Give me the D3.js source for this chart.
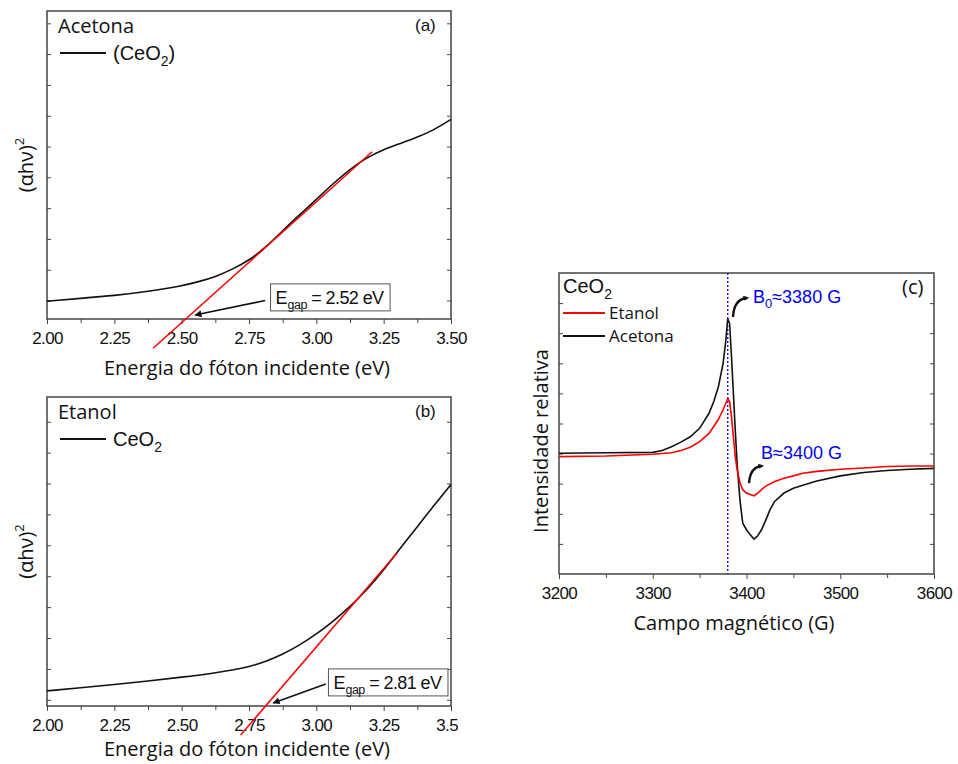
<!DOCTYPE html>
<html>
<head>
<meta charset="utf-8">
<script src="https://cdn.jsdelivr.net/npm/d3@7"></script>
<style>
  body { margin: 0; background: #fff; }
  svg { display: block; }
  .tick text { font-family: "Liberation Sans", Arial, sans-serif; font-size: 17px; letter-spacing: -0.6px; fill: #111; }
  .tick line { stroke: #444; }
  .ttl { font-family: "Open Sans", sans-serif; font-size: 20px; fill: #111; }
  .arial { font-family: "Liberation Sans", Arial, sans-serif; fill: #111; }
</style>
</head>
<body>
<svg id="fig" width="958" height="764"></svg>
<script>
// ---- data ----
// (a) acetona: (alpha h nu)^2, arbitrary units
const energyA = [2.00, 2.125, 2.25, 2.375, 2.50, 2.5625, 2.625, 2.6875, 2.75, 2.8125, 2.875,
  2.9375, 3.00, 3.0625, 3.125, 3.1875, 3.25, 3.3125, 3.375, 3.4375, 3.50];
const absA = [-0.02, 0.07, 0.16, 0.29, 0.47, 0.61, 0.77, 1.01, 1.30, 1.73, 2.27,
  2.78, 3.28, 3.80, 4.27, 4.64, 4.91, 5.10, 5.30, 5.54, 5.88];
const fitA = [[2.394, -1.55], [3.207, 4.83]];

// (b) etanol
const energyB = [2.00, 2.125, 2.25, 2.375, 2.50, 2.625, 2.6875, 2.75, 2.8125, 2.875,
  2.9375, 3.00, 3.0625, 3.125, 3.1875, 3.25, 3.3125, 3.375, 3.4375, 3.50];
const absB = [0.29, 0.39, 0.49, 0.61, 0.73, 0.87, 0.96, 1.07, 1.24, 1.47,
  1.77, 2.12, 2.54, 3.01, 3.55, 4.20, 4.92, 5.60, 6.30, 6.97];
const fitB = [[2.719, -1.14], [3.299, 4.74]];

const energyTicks = [2.00, 2.25, 2.50, 2.75, 3.00, 3.25, 3.50];

// (c) EPR spectra
const fieldAcetona = [3200, 3250, 3300, 3310, 3320, 3330, 3340, 3350, 3360, 3365, 3370, 3375, 3378,
  3380, 3382, 3384, 3386, 3388, 3390, 3393, 3396, 3400, 3404, 3408, 3412, 3416, 3420, 3425, 3430,
  3440, 3450, 3460, 3475, 3500, 3525, 3550, 3575, 3600];
const intAcetona = [40.1, 40.3, 40.4, 41.0, 42.3, 43.8, 45.6, 48.4, 53.4, 57.2, 62.2, 69.9, 77.7,
  84.9, 83.2, 72.2, 60.0, 47.8, 36.8, 24.6, 16.9, 14.7, 13.0, 11.6, 12.7, 14.7, 17.5, 21.3, 24.1,
  26.9, 28.5, 29.5, 30.9, 32.6, 33.7, 34.4, 34.8, 35.1];
const fieldEtanol = [3200, 3250, 3300, 3320, 3330, 3340, 3350, 3360, 3365, 3370, 3375, 3380, 3382,
  3384, 3386, 3388, 3390, 3393, 3396, 3400, 3404, 3408, 3412, 3416, 3420, 3430, 3440, 3450, 3460,
  3475, 3500, 3525, 3550, 3575, 3600];
const intEtanol = [39.0, 39.2, 39.8, 40.3, 41.0, 42.1, 44.0, 46.7, 49.0, 51.4, 54.5, 58.3, 57.2,
  52.3, 45.6, 39.0, 34.6, 30.4, 28.0, 26.9, 26.4, 26.0, 26.9, 28.0, 29.1, 30.7, 31.8, 32.6, 33.5,
  34.1, 34.8, 35.2, 35.7, 35.9, 35.9];
const fieldTicks = [3200, 3300, 3400, 3500, 3600];
const b0 = 3380;

const svg = d3.select('#fig');
svg.append('rect').attr('width', 958).attr('height', 764).attr('fill', '#fff');

const defs = svg.append('defs');
defs.append('marker').attr('id', 'head').attr('viewBox', '0 0 10 10')
  .attr('refX', 9).attr('refY', 5).attr('markerWidth', 9).attr('markerHeight', 7)
  .attr('markerUnits', 'userSpaceOnUse').attr('orient', 'auto')
  .append('path').attr('d', 'M0,0L10,5L0,10z').attr('fill', '#111');
defs.append('marker').attr('id', 'hook').attr('viewBox', '0 0 10 10')
  .attr('refX', 6).attr('refY', 5).attr('markerWidth', 6).attr('markerHeight', 6)
  .attr('markerUnits', 'userSpaceOnUse').attr('orient', 'auto')
  .append('path').attr('d', 'M0,1L10,5L0,9z').attr('fill', '#111');
defs.append('clipPath').attr('id', 'clipB').append('rect')
  .attr('x', 0).attr('y', 380).attr('width', 458).attr('height', 384);

// frame with ticks all round (labels only at the bottom)
function axes(g, x, y, major, minor, yTicks, fmt) {
  const [x0, x1] = x.range(), [y0, y1] = y.range();
  const strip = s => s.select('.domain').remove();
  g.append('g').attr('transform', `translate(0,${y0})`)
    .call(d3.axisBottom(x).tickValues(major).tickSize(5).tickPadding(8).tickFormat(fmt)).call(strip);
  g.append('g').attr('transform', `translate(0,${y0})`)
    .call(d3.axisBottom(x).tickValues(minor).tickSize(4).tickFormat('')).call(strip);
  g.append('g').attr('transform', `translate(${x0},0)`)
    .call(d3.axisLeft(y).tickValues(yTicks).tickSize(-4).tickFormat('')).call(strip);
  g.append('g').attr('transform', `translate(${x1},0)`)
    .call(d3.axisRight(y).tickValues(yTicks).tickSize(-4).tickFormat('')).call(strip);
  g.append('rect').attr('x', x0).attr('y', y1).attr('width', x1 - x0).attr('height', y0 - y1)
    .attr('fill', 'none').attr('stroke', '#444').attr('stroke-width', 1.5);
}

function gapBox(g, x, y, bx, by, label, ax0, ay0, ax1, ay1) {
  const t = g.append('text').attr('class', 'arial').attr('x', x(bx) + 5).attr('y', y(by) + 20)
    .style('font-size', '18px');
  t.append('tspan').text('E');
  t.append('tspan').text('gap').style('font-size', '12.5px').attr('dy', 5).attr('letter-spacing', -0.5);
  t.append('tspan').text(' = ' + label + ' eV').attr('dy', -5).attr('letter-spacing', -0.6);
  const bb = t.node().getBBox();
  g.insert('rect', () => t.node()).attr('x', x(bx)).attr('y', y(by))
    .attr('width', bb.width + 11).attr('height', 27)
    .attr('fill', '#fff').attr('stroke', '#555').attr('stroke-width', 1);
  g.append('line').attr('x1', x(ax0)).attr('y1', y(ay0)).attr('x2', x(ax1)).attr('y2', y(ay1))
    .attr('stroke', '#111').attr('stroke-width', 1.6).attr('marker-end', 'url(#head)');
}

function energyPanel(g, cfg) {
  const x = d3.scaleLinear([2, 3.5], [47, 451]);
  const y = d3.scaleLinear(cfg.yDomain, cfg.yRange);
  const minor = d3.range(0, 12).map(i => 2.125 + i * 0.125).filter(v => !energyTicks.some(t => Math.abs(t - v) < 1e-6));
  axes(g, x, y, energyTicks, minor, d3.range(0, 10), d3.format('.2f'));

  const line = d3.line().x(d => x(d[0])).y(d => y(d[1])).curve(d3.curveBasis);
  g.append('path').datum(cfg.energy.map((e, i) => [e, cfg.abs[i]]))
    .attr('d', line).attr('fill', 'none').attr('stroke', '#111').attr('stroke-width', 1.6);
  g.append('path').datum(cfg.fit).attr('d', d3.line().x(d => x(d[0])).y(d => y(d[1])))
    .attr('fill', 'none').attr('stroke', '#f00').attr('stroke-width', 1.5);

  const top = cfg.yRange[1];
  g.append('text').attr('class', 'ttl').attr('x', 58).attr('y', top + 22).text(cfg.solvent);
  g.append('line').attr('x1', 60).attr('x2', 106).attr('y1', top + 42).attr('y2', top + 42)
    .attr('stroke', '#111').attr('stroke-width', 2);
  const leg = g.append('text').attr('class', 'arial').attr('x', 113).attr('y', top + 49).style('font-size', '20px');
  leg.append('tspan').text(cfg.paren ? '(CeO' : 'CeO');
  leg.append('tspan').text('2').style('font-size', '14px').attr('dy', 6);
  if (cfg.paren) leg.append('tspan').text(')').attr('dy', -6);
  g.append('text').attr('class', 'arial').attr('x', 415).attr('y', top + 20)
    .style('font-size', '17px').text(cfg.tag);

  const yl = g.append('text').attr('class', 'ttl')
    .attr('transform', `translate(33,${(cfg.yRange[0] + top) / 2}) rotate(-90)`).attr('text-anchor', 'middle');
  yl.append('tspan').text('(\u03b1h\u03bd)');
  yl.append('tspan').text('2').style('font-size', '13px').attr('dy', -9);
  g.append('text').attr('class', 'ttl').attr('x', 247).attr('y', cfg.yRange[0] + cfg.titleGap)
    .attr('text-anchor', 'middle').text('Energia do fóton incidente (eV)');

  gapBox(g, x, y, ...cfg.box);
}

energyPanel(svg.append('g'), {
  energy: energyA, abs: absA, fit: fitA, yDomain: [-0.6, 9.4], yRange: [319, 11],
  solvent: 'Acetona', paren: true, tag: '(a)', titleGap: 56,
  box: [2.83, 0.54, '2.52', 2.81, 0.0, 2.55, -0.47]
});
energyPanel(svg.append('g').attr('clip-path', 'url(#clipB)'), {
  energy: energyB, abs: absB, fit: fitB, yDomain: [-0.2, 9.8], yRange: [706, 397],
  solvent: 'Etanol', paren: false, tag: '(b)', titleGap: 50,
  box: [3.045, 1.0, '2.81', 3.035, 0.51, 2.84, -0.10]
});

// ---- panel (c) ----
const gc = svg.append('g');
const xc = d3.scaleLinear([3200, 3600], [559, 934]);
const yc = d3.scaleLinear([0, 100], [574, 273]);
axes(gc, xc, yc, fieldTicks, d3.range(3250, 3600, 100), d3.range(10, 100, 10), d3.format('d'));

const lineC = d3.line().x(d => xc(d[0])).y(d => yc(d[1]));
gc.append('line').attr('x1', xc(b0)).attr('x2', xc(b0)).attr('y1', yc(100)).attr('y2', yc(0))
  .attr('stroke', '#0000ee').attr('stroke-width', 1.3).attr('stroke-dasharray', '2,2');
gc.append('path').datum(fieldAcetona.map((f, i) => [f, intAcetona[i]]))
  .attr('d', lineC).attr('fill', 'none').attr('stroke', '#111').attr('stroke-width', 1.6);
gc.append('path').datum(fieldEtanol.map((f, i) => [f, intEtanol[i]]))
  .attr('d', lineC).attr('fill', 'none').attr('stroke', '#f00').attr('stroke-width', 1.6);

const ce = gc.append('text').attr('class', 'arial').attr('x', 563).attr('y', 293).style('font-size', '20px');
ce.append('tspan').text('CeO');
ce.append('tspan').text('2').style('font-size', '14px').attr('dy', 6);
[['Etanol', '#f00', 313], ['Acetona', '#111', 336]].forEach(([name, col, ly]) => {
  gc.append('line').attr('x1', 563).attr('x2', 605).attr('y1', ly).attr('y2', ly)
    .attr('stroke', col).attr('stroke-width', 2);
  gc.append('text').attr('class', 'ttl').attr('x', 609).attr('y', ly + 6)
    .style('font-size', '17px').text(name);
});
gc.append('text').attr('class', 'ttl').attr('x', 902).attr('y', 294).text('(c)');

function hook(x0, y0, x1, y1) {
  const p = d3.path();
  p.moveTo(xc(x0), yc(y0));
  p.quadraticCurveTo(xc(x0) + 1, yc(y1) + 1, xc(x1), yc(y1));
  gc.append('path').attr('d', p.toString()).attr('fill', 'none').attr('stroke', '#111')
    .attr('stroke-width', 2.4).attr('marker-end', 'url(#hook)');
}
hook(3385.6, 85.4, 3400.5, 91.7);
hook(3402.7, 30.2, 3416.5, 35.9);

const t0 = gc.append('text').attr('class', 'arial').attr('x', xc(3406.9)).attr('y', yc(90.1))
  .style('font-size', '18px').style('fill', '#0000ee');
t0.append('tspan').text('B');
t0.append('tspan').text('0').style('font-size', '13px').attr('dy', 5);
t0.append('tspan').text('\u22483380 G').attr('dy', -5);
gc.append('text').attr('class', 'arial').attr('x', xc(3415.5)).attr('y', yc(38.2))
  .style('font-size', '18px').style('fill', '#0000ee').text('B\u22483400 G');

gc.append('text').attr('class', 'ttl').attr('x', 734).attr('y', 630)
  .attr('text-anchor', 'middle').text('Campo magnético (G)');
gc.append('text').attr('class', 'ttl').attr('transform', 'translate(548,441) rotate(-90)')
  .attr('text-anchor', 'middle').text('Intensidade relativa');
</script>
</body>
</html>
